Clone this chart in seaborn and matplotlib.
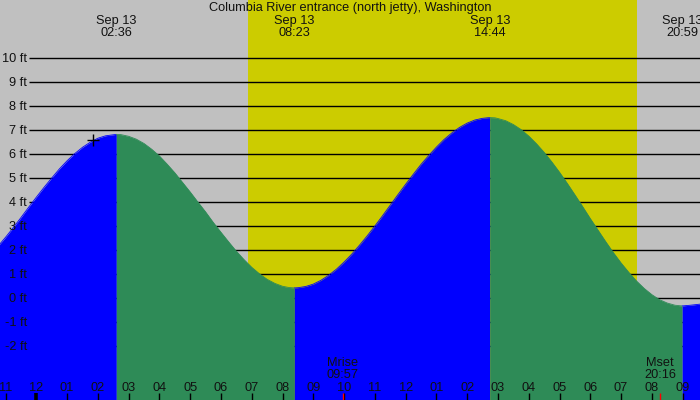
import matplotlib
matplotlib.use("Agg")
import matplotlib.pyplot as plt
import pandas as pd
import seaborn as sns

# ---------------- data ----------------
title = "Columbia River entrance (north jetty), Washington"

# tide height (ft) at hours after midnight, Sep 13
curve_hours = [-1.25, -1.0, -0.75, -0.5, -0.25, 0.0, 0.25, 0.5, 0.75, 1.0, 1.25, 1.5, 1.75, 2.0, 2.25, 2.6,
               2.75, 3.0, 3.25, 3.5, 3.75, 4.0, 4.25, 4.5, 4.75, 5.0, 5.25, 5.5, 5.75, 6.0, 6.25, 6.5,
               6.75, 7.0, 7.25, 7.5, 7.75, 8.0, 8.2, 8.383,
               8.5, 8.75, 9.0, 9.25, 9.5, 9.75, 10.0, 10.25, 10.5, 10.75, 11.0, 11.25, 11.5, 11.75,
               12.0, 12.25, 12.5, 12.75, 13.0, 13.25, 13.5, 13.75, 14.0, 14.25, 14.5, 14.733,
               14.9, 15.0, 15.25, 15.5, 15.75, 16.0, 16.25, 16.5, 16.75, 17.0, 17.25, 17.5, 17.75,
               18.0, 18.25, 18.5, 18.75, 19.0, 19.25, 19.5, 19.75, 20.0, 20.25, 20.5, 20.75, 20.983,
               21.25, 21.6]
curve_feet = [2.13, 2.51, 2.91, 3.33, 3.76, 4.18, 4.59, 4.98, 5.36, 5.70, 6.00, 6.26, 6.47, 6.64, 6.74, 6.80,
              6.79, 6.72, 6.60, 6.42, 6.18, 5.90, 5.56, 5.20, 4.80, 4.40, 3.98, 3.57, 3.13, 2.72, 2.32, 1.93,
              1.58, 1.26, 0.99, 0.76, 0.59, 0.47, 0.42, 0.40,
              0.41, 0.46, 0.56, 0.72, 0.93, 1.18, 1.48, 1.81, 2.18, 2.57, 2.98, 3.41, 3.85, 4.29,
              4.72, 5.14, 5.55, 5.92, 6.27, 6.59, 6.86, 7.09, 7.27, 7.40, 7.47, 7.50,
              7.49, 7.46, 7.37, 7.21, 7.00, 6.73, 6.41, 6.05, 5.65, 5.22, 4.76, 4.28, 3.79,
              3.29, 2.81, 2.33, 1.87, 1.44, 1.05, 0.69, 0.38, 0.12, -0.09, -0.23, -0.32, -0.35,
              -0.32, -0.27]

extreme_hours = [2.6, 8.383, 14.733, 20.983]
extreme_labels = ["Sep 13\n02:36", "Sep 13\n08:23", "Sep 13\n14:44", "Sep 13\n20:59"]

sunrise_hour, sunset_hour = 6.88, 19.53
moon_hours = [9.95, 20.267]
moon_labels = ["Mrise\n09:57", "Mset\n20:16"]
now_hour, now_feet = 1.85, 6.56

hour_ticks = list(range(-1, 22))
hour_labels = ["11", "12", "01", "02", "03", "04", "05", "06", "07", "08", "09", "10",
               "11", "12", "01", "02", "03", "04", "05", "06", "07", "08", "09"]
level_ticks = list(range(-2, 11))
level_labels = [f"{v} ft" for v in level_ticks]

# ---------------- style ----------------
GRAY = "#c0c0c0"
YELLOW = "#cccc00"
BLUE = "#0000ff"
GREEN = "#2e8b57"
TXT = "#111111"
FS = 9.2

sns.set_theme(style="white", context="notebook")
plt.rcParams["font.family"] = ["Liberation Sans", "DejaVu Sans"]

fig = plt.figure(figsize=(7, 4), dpi=100)
ax = fig.add_axes([0, 0, 1, 1])
ax.set_facecolor(GRAY)
for s in ax.spines.values():
    s.set_visible(False)

x0, x1 = -1.179, 21.563
y0, y1 = -4.27, 12.40

# daylight
ax.axvspan(sunrise_hour, sunset_hour, color=YELLOW, lw=0, zorder=0.5)
# level lines
ax.hlines(level_ticks, -0.23, x1 + 1, colors="black", lw=1.0, zorder=0.8)

# tide curve: blue while rising, green while falling
df = pd.DataFrame({"hour": curve_hours, "feet": curve_feet})
bounds = [curve_hours[0]] + extreme_hours + [curve_hours[-1]]
for a, b in zip(bounds[:-1], bounds[1:]):
    seg = df[(df.hour >= a) & (df.hour <= b)]
    rising = seg.feet.iloc[-1] > seg.feet.iloc[0]
    col = BLUE if rising else GREEN
    ax.fill_between(seg.hour, seg.feet, y0 - 1, color=col, lw=0, zorder=1)
    sns.lineplot(data=seg, x="hour", y="feet", color=col, lw=0.6, ax=ax, zorder=1.1)

ax.plot([now_hour], [now_feet], marker="+", color="black", ms=8, mew=1, zorder=3)

ax.set_xlim(x0, x1)
ax.set_ylim(y0, y1)
ax.set_xlabel("")
ax.set_ylabel("")

# axis ticks inside the plot
ax.set_axisbelow(False)
ax.set_yticks(level_ticks)
ax.set_yticklabels(level_labels)
ax.tick_params(axis="y", length=0, pad=-19.3, labelsize=FS, labelcolor=TXT)
ax.set_xticks(hour_ticks)
ax.set_xticklabels(hour_labels)
ax.tick_params(axis="x", which="major", direction="in", length=5.4, width=1,
               color="black", pad=-13.0, labelsize=FS, labelcolor=TXT, bottom=True)
ax.set_xticks(moon_hours, minor=True)
ax.tick_params(axis="x", which="minor", direction="in", length=5.4, width=1,
               color="red", bottom=True)
ax.xaxis.get_major_ticks()[1].tick1line.set_markeredgewidth(2.6)

# texts
tr = ax.get_xaxis_transform()
ax.text(0.5, 0.996, title, transform=ax.transAxes, ha="center", va="top",
        fontsize=FS, color=TXT)
for h, lab in zip(extreme_hours, extreme_labels):
    ax.text(h, 0.962, lab, transform=tr, ha="center", va="top", fontsize=FS,
            color=TXT, linespacing=1.0)
for h, lab in zip(moon_hours, moon_labels):
    ax.text(h, 0.107, lab, transform=tr, ha="center", va="top", fontsize=FS,
            color=TXT, linespacing=1.0)

fig.savefig("out.png", dpi=100)
